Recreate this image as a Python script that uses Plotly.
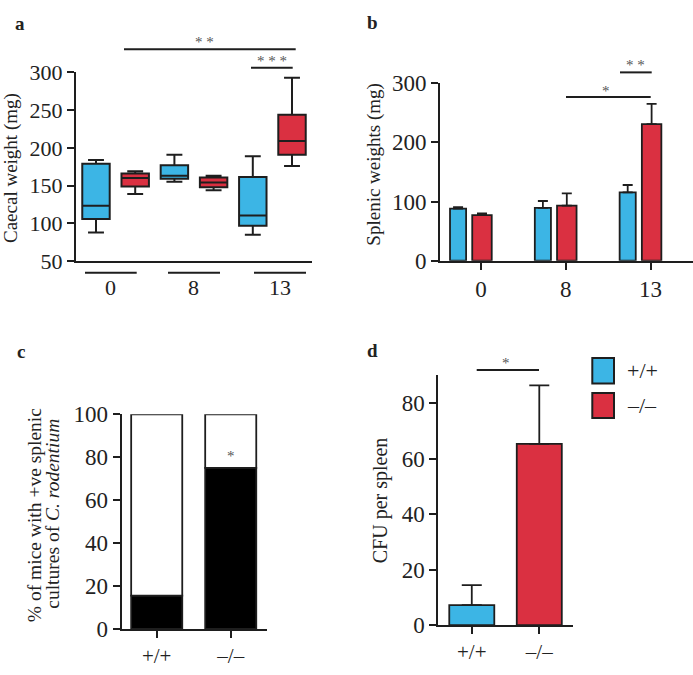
import plotly.graph_objects as go

# ---------------- data ----------------
a_groups = ["0", "8", "13"]
a_wt_upper = [184, 191, 189]
a_wt_q3 = [179, 177, 161.5]
a_wt_median = [123.5, 163, 110.5]
a_wt_q1 = [105.7, 159, 97]
a_wt_lower = [88, 155, 85]
a_ko_upper = [169, 163, 293]
a_ko_q3 = [166, 160.6, 244]
a_ko_median = [160, 154, 209]
a_ko_q1 = [149, 148, 191]
a_ko_lower = [139, 144, 176]

b_groups = ["0", "8", "13"]
b_wt = [88, 89.5, 115.6]
b_wt_top = [90.5, 101, 128]
b_ko = [77, 93, 231]
b_ko_top = [80, 114, 265]

c_genotypes = ["+/+", "–/–"]
c_positive = [15.5, 75]

d_genotypes = ["+/+", "–/–"]
d_cfu = [7.2, 65.3]
d_cfu_top = [14.4, 86.4]

BLUE = "#3CB5E5"
RED = "#DA3041"
INK = "#1e1e1e"
FONT = "Liberation Serif"
W, H = 693, 675


def px(x):
    return x / W


def py(y):
    return 1 - y / H


fig = go.Figure()

# ---------------- panel a: box plots ----------------
for i in range(len(a_groups)):
    fig.add_trace(go.Box(
        x=[2 * i], q1=[a_wt_q1[i]], median=[a_wt_median[i]], q3=[a_wt_q3[i]],
        lowerfence=[a_wt_lower[i]], upperfence=[a_wt_upper[i]],
        width=0.7, whiskerwidth=0.58, fillcolor=BLUE,
        line=dict(color=INK, width=2), xaxis="x", yaxis="y",
        showlegend=False, boxpoints=False))
    fig.add_trace(go.Box(
        x=[2 * i + 1], q1=[a_ko_q1[i]], median=[a_ko_median[i]], q3=[a_ko_q3[i]],
        lowerfence=[a_ko_lower[i]], upperfence=[a_ko_upper[i]],
        width=0.7, whiskerwidth=0.58, fillcolor=RED,
        line=dict(color=INK, width=2), xaxis="x", yaxis="y",
        showlegend=False, boxpoints=False))

# ---------------- panel b: bars with error bars ----------------
fig.add_trace(go.Bar(
    x=b_groups, y=b_wt, width=0.19, offset=-0.365, marker_color=BLUE,
    marker_line=dict(color=INK, width=1.8),
    error_y=dict(type="data", symmetric=False,
                 array=[t - v for t, v in zip(b_wt_top, b_wt)],
                 arrayminus=[0] * len(b_wt), color=INK, thickness=1.8, width=5),
    xaxis="x2", yaxis="y2", showlegend=False))
fig.add_trace(go.Bar(
    x=b_groups, y=b_ko, width=0.23, offset=-0.103, marker_color=RED,
    marker_line=dict(color=INK, width=1.8),
    error_y=dict(type="data", symmetric=False,
                 array=[t - v for t, v in zip(b_ko_top, b_ko)],
                 arrayminus=[0] * len(b_ko), color=INK, thickness=1.8, width=5),
    xaxis="x2", yaxis="y2", showlegend=False))

# ---------------- panel c: stacked percentage bars ----------------
fig.add_trace(go.Bar(
    x=c_genotypes, y=c_positive, width=0.69, marker_color="black",
    marker_line=dict(color=INK, width=1.8), xaxis="x3", yaxis="y3",
    showlegend=False))
fig.add_trace(go.Bar(
    x=c_genotypes, y=[100 - p for p in c_positive], base=c_positive, width=0.69,
    marker_color="white", marker_line=dict(color=INK, width=1.8),
    xaxis="x3", yaxis="y3", showlegend=False))

# ---------------- panel d: CFU bars ----------------
fig.add_trace(go.Bar(
    x=d_genotypes, y=d_cfu, width=0.667, marker_color=[BLUE, RED],
    marker_line=dict(color=INK, width=1.8),
    error_y=dict(type="data", symmetric=False,
                 array=[t - v for t, v in zip(d_cfu_top, d_cfu)],
                 arrayminus=[0] * len(d_cfu), color=INK, thickness=1.8, width=10),
    xaxis="x4", yaxis="y4", showlegend=False))


def axis_style(size):
    return dict(showline=True, linecolor=INK, linewidth=2, showgrid=False,
                zeroline=False, ticks="outside", tickcolor=INK, tickwidth=2,
                ticklen=7, tickfont=dict(family=FONT, size=size, color="#222"))


fig.update_layout(
    width=W, height=H, margin=dict(l=0, r=0, t=0, b=0),
    paper_bgcolor="white", plot_bgcolor="white", barmode="overlay",
    font=dict(family=FONT, color="#222"),
    xaxis=dict(domain=[px(76), px(312)], range=[-0.51, 5.51], showline=True,
               linecolor=INK, linewidth=2, showgrid=False, zeroline=False,
               showticklabels=False, ticks=""),
    yaxis=dict(domain=[py(258.7), py(62.7)], range=[50, 300],
               tickvals=[50, 100, 150, 200, 250, 300], **axis_style(22)),
    xaxis2=dict(domain=[px(440), 1.0], range=[-0.483, 2.5], type="category",
                anchor="y2", **axis_style(23)),
    yaxis2=dict(domain=[py(258.3), py(74)], range=[0, 300],
                tickvals=[0, 100, 200, 300], anchor="x2", **axis_style(23)),
    xaxis3=dict(domain=[px(121.7), px(266.7)], range=[-0.473, 1.486],
                type="category", anchor="y3", **axis_style(21)),
    yaxis3=dict(domain=[py(640.7), py(417.7)], range=[0, 100],
                tickvals=[0, 20, 40, 60, 80, 100], anchor="x3", **axis_style(23)),
    xaxis4=dict(domain=[px(438.3), px(572.7)], range=[-0.496, 1.495],
                type="category", anchor="y4", **axis_style(21)),
    yaxis4=dict(domain=[py(636.7), py(377.3)], range=[0, 90],
                tickvals=[0, 20, 40, 60, 80], anchor="x4", **axis_style(23)),
)

shapes = []
ann = []


def hline(x0, x1, y, width=2):
    shapes.append(dict(type="line", xref="paper", yref="paper",
                       x0=px(x0), x1=px(x1), y0=py(y), y1=py(y),
                       line=dict(color=INK, width=width)))


def text(x, y, s, size=19, angle=0, color="#222", bold=False, xanchor="center"):
    if bold:
        s = "<b>" + s + "</b>"
    ann.append(dict(xref="paper", yref="paper", x=px(x), y=py(y), text=s,
                    showarrow=False, textangle=angle, xanchor=xanchor,
                    yanchor="middle", font=dict(family=FONT, size=size, color=color)))


# panel letters
text(20, 12, "a", 19, bold=True)
text(373, 11, "b", 19, bold=True)
text(21, 353, "c", 19, bold=True)
text(373, 352, "d", 19, bold=True)

# panel a: group underlines and labels
for (x0, x1), lab, xc in zip([(85, 136.7), (168, 220), (254, 306)], a_groups,
                             [110, 193, 280]):
    hline(x0, x1, 270.7)
    text(xc, 286, lab, 22)
text(11, 162, "Caecal weight (mg)", 19, angle=-90)
hline(124, 295.7, 38.7)
text(204, 31, "* *", 15, color="#555")
hline(251, 292.7, 58)
text(272, 51, "* * *", 15, color="#555")

# panel b
text(374, 158.5, "Splenic weights (mg)", 19, angle=-90)
hline(620, 651.7, 62.7)
text(635.7, 55, "* *", 15, color="#555")
hline(566, 650.7, 88.3)
text(605.7, 82, "*", 15, color="#555")

# panel c
text(34, 522.5, "% of mice with +ve splenic", 19.5, angle=-90)
text(53, 521, "cultures of <i>C. rodentium</i>", 19.5, angle=-90)
text(230.7, 461, "*", 15, color="#555")

# panel d
text(380, 507, "CFU per spleen", 20, angle=-90)
hline(476.7, 539, 371.7)
text(505.7, 364, "*", 15, color="#555")

# legend
for (y0, y1), col, lab in zip([(359.3, 385.7), (395.7, 421.7)], [BLUE, RED],
                              ["+/+", "–/–"]):
    shapes.append(dict(type="rect", xref="paper", yref="paper",
                       x0=px(592.3), x1=px(614), y0=py(y1), y1=py(y0),
                       fillcolor=col, line=dict(color=INK, width=2)))
    text(625, (y0 + y1) / 2, lab, 22, xanchor="left")

fig.update_layout(shapes=shapes, annotations=ann)
fig.write_html("out.html", config={"displayModeBar": False},
               post_script="document.body.style.margin='0';"
                           "document.body.style.padding='0';"
                           "document.body.style.overflow='hidden';")
